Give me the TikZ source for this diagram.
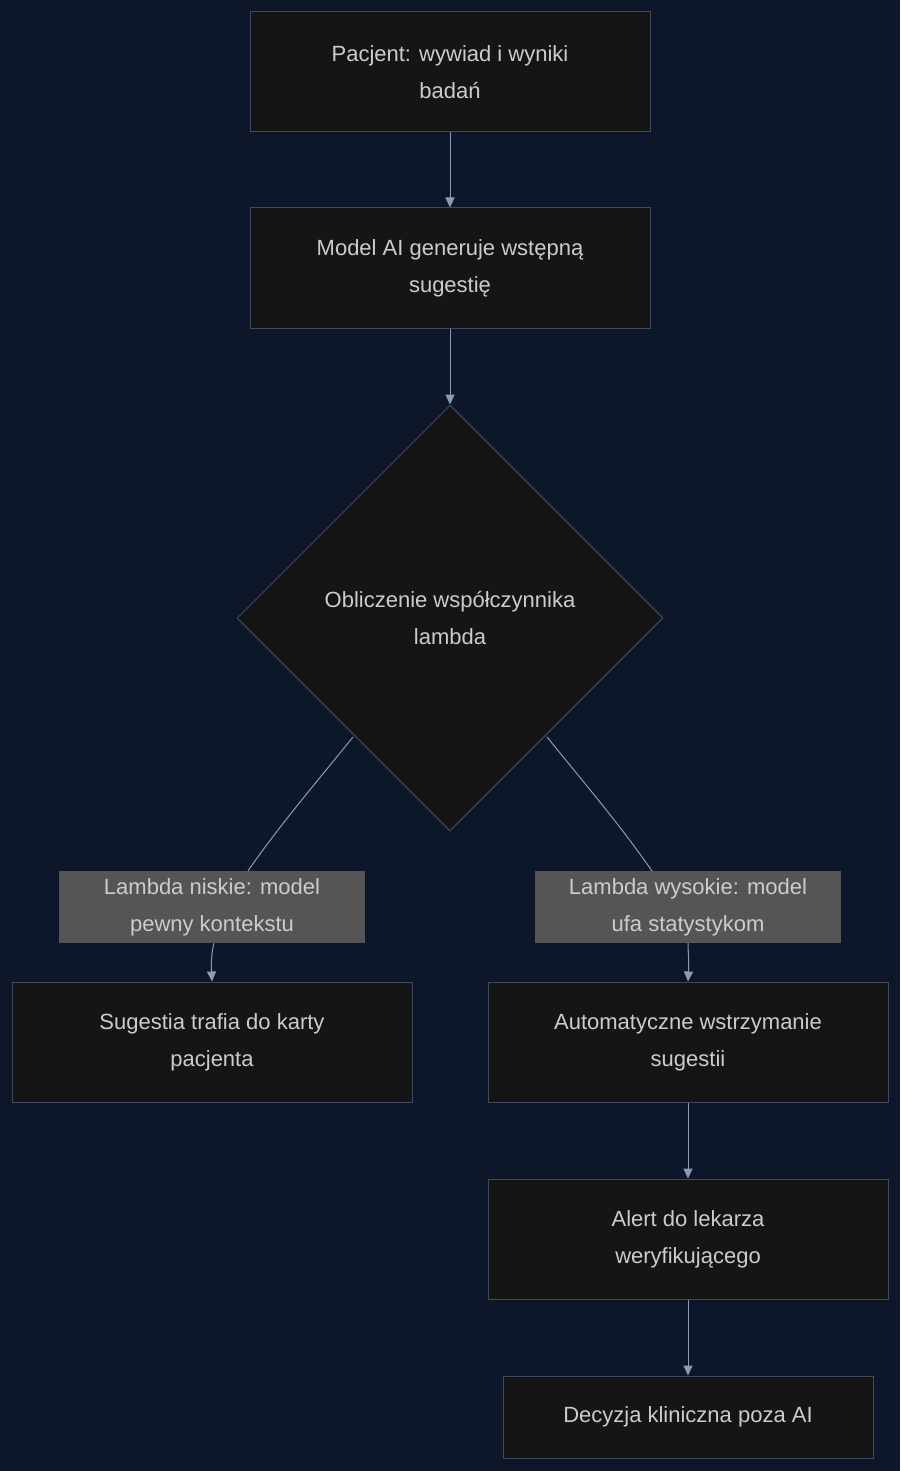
\documentclass[tikz,border=0pt]{standalone}
\usepackage{fontspec}
\setmainfont{Liberation Sans}
\usetikzlibrary{shapes.geometric, arrows.meta}
\definecolor{bgc}{HTML}{0E1729}
\definecolor{boxc}{HTML}{151515}
\definecolor{linec}{HTML}{3E4A5E}
\definecolor{txtc}{HTML}{CCCCCC}
\definecolor{arrc}{HTML}{8A9BB5}
\definecolor{lblc}{HTML}{555555}
\tikzset{
  box/.style={draw=linec, fill=boxc, text=txtc, minimum width=400pt, minimum height=120pt, align=center, font=\fontsize{22}{37}\selectfont, line width=1pt},
  dec/.style={diamond, draw=linec, fill=boxc, text=txtc, minimum width=426pt, minimum height=426pt, align=center, font=\fontsize{22}{37}\selectfont, inner sep=0pt, line width=1pt},
  lbl/.style={fill=lblc, text=txtc, minimum width=306pt, minimum height=72pt, align=center, font=\fontsize{22}{37}\selectfont},
  arr/.style={draw=arrc, line width=1pt, -{Triangle[length=10pt,width=9pt]}},
  lin/.style={draw=arrc, line width=1pt}
}
\begin{document}
\begin{tikzpicture}[x=1pt,y=-1pt]
  \fill[bgc] (0,0) rectangle (900,1471);
  \useasboundingbox (0,0) rectangle (900,1471);
  \node[box] (pac) at (450,72) {Pacjent: wywiad i wyniki\\badań};
  \node[box] (mod) at (450,268) {Model AI generuje wstępną\\sugestię};
  \node[dec] (lam) at (450,618) {Obliczenie współczynnika\\lambda};
  \node[lbl] (nis) at (212,907) {Lambda niskie: model\\pewny kontekstu};
  \node[lbl] (wys) at (688,907) {Lambda wysokie: model\\ufa statystykom};
  \node[box] (kar) at (212,1042) {Sugestia trafia do karty\\pacjenta};
  \node[box] (wst) at (688,1042) {Automatyczne wstrzymanie\\sugestii};
  \node[box] (ale) at (688,1239) {Alert do lekarza\\weryfikującego};
  \node[box, minimum width=370pt, minimum height=82pt] (dcz) at (688,1417) {Decyzja kliniczna poza AI};
  \draw[arr] (pac) -- (mod);
  \draw[arr] (mod) -- (lam);
  \draw[lin] (lam.south west) ++(0,0) coordinate (c1);
  \draw[lin] (353,737) .. controls (310,790) and (280,825) .. (nis.north west -| 248,871);
  \draw[lin] (547,737) .. controls (590,790) and (620,825) .. (652,871);
  \draw[arr] (nis.south) ++(2,0) .. controls (212,950) and (211,960) .. (kar.north);
  \draw[arr] (wys.south) .. controls (688,950) and (689,960) .. (wst.north);
  \draw[arr] (wst) -- (ale);
  \draw[arr] (ale) -- (dcz);
\end{tikzpicture}
\end{document}
